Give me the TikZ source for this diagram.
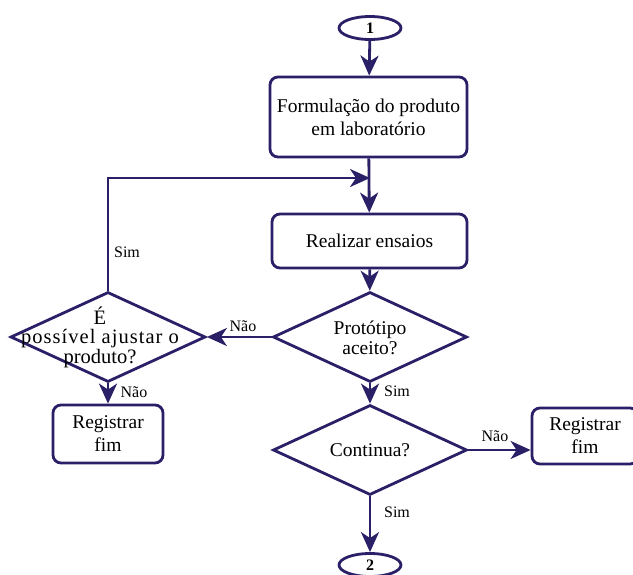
\documentclass[tikz,border=0pt]{standalone}
\usepackage{fontspec}
\setmainfont{Liberation Serif}
\usetikzlibrary{shapes.geometric,arrows.meta}
\definecolor{ink}{RGB}{42,32,104}
\tikzset{
  line/.style={draw=ink,line width=2.8pt},
  arr/.style={line,-{Stealth[length=20pt,width=18pt,inset=6pt]}},
  procbox/.style={line,rounded corners=8pt,align=center,inner sep=0pt,font=\fontsize{19.5}{23}\selectfont},
  decision/.style={line,diamond,inner sep=0pt},
  dtext/.style={align=center,inner sep=0pt,font=\fontsize{19.5}{20.5}\selectfont},
  connector/.style={line,ellipse,inner sep=0pt,minimum width=62pt,minimum height=23pt,font=\bfseries\fontsize{16}{18}\selectfont},
  lbl/.style={font=\fontsize{16}{18}\selectfont,inner sep=0pt}
}
\begin{document}
\begin{tikzpicture}[x=1pt,y=-1pt]
\useasboundingbox (0,0) rectangle (633,575);
\node[connector] (c1) at (370,28) {1};
\node[procbox,minimum width=197pt,minimum height=80pt] (form) at (368.5,117) {Formulação do produto\\em laboratório};
\node[procbox,minimum width=195pt,minimum height=54pt] (real) at (369.5,241) {Realizar ensaios};
\node[decision,minimum width=194pt,minimum height=90pt] (prot) at (370,337) {};
\node[dtext] (prott) at (370,338) {Protótipo\\aceito?};
\node[decision,minimum width=195pt,minimum height=90pt] (ajus) at (108,337) {};
\node[dtext,font=\fontsize{20.5}{19.5}\selectfont] (ajust) at (100,337) {É\\{\addfontfeature{LetterSpace=5}possível ajustar o}\\produto?};
\node[procbox,minimum width=110pt,minimum height=58pt] (reg1) at (108,434) {Registrar\\fim};
\node[decision,minimum width=194pt,minimum height=90pt] (cont) at (370,450) {};
\node[dtext] (contt) at (370,450) {Continua?};
\node[procbox,minimum width=106pt,minimum height=56pt] (reg2) at (585,436) {Registrar\\fim};
\node[connector] (c2) at (370,565) {2};
\coordinate (j) at (370,178);

\draw[arr] (c1) -- (form);
\draw[arr] (form) -- (real);
\draw[arr] (ajus.north) |- (j);
\draw[arr] (real) -- (prot);
\draw[arr] (prot.west) -- (ajus.east);
\draw[arr] (ajus.south) -- (reg1.north);
\draw[arr] (prot.south) -- (cont.north);
\draw[arr] (cont.east) -- (cont.east -| reg2.west);
\draw[arr] (cont.south) -- (c2.north);

\node[lbl] at (127,252) {Sim};
\node[lbl] at (243,326) {Não};
\node[lbl] at (134,392) {Não};
\node[lbl] at (397,391) {Sim};
\node[lbl] at (495,436) {Não};
\node[lbl] at (397,512) {Sim};
\end{tikzpicture}
\end{document}
